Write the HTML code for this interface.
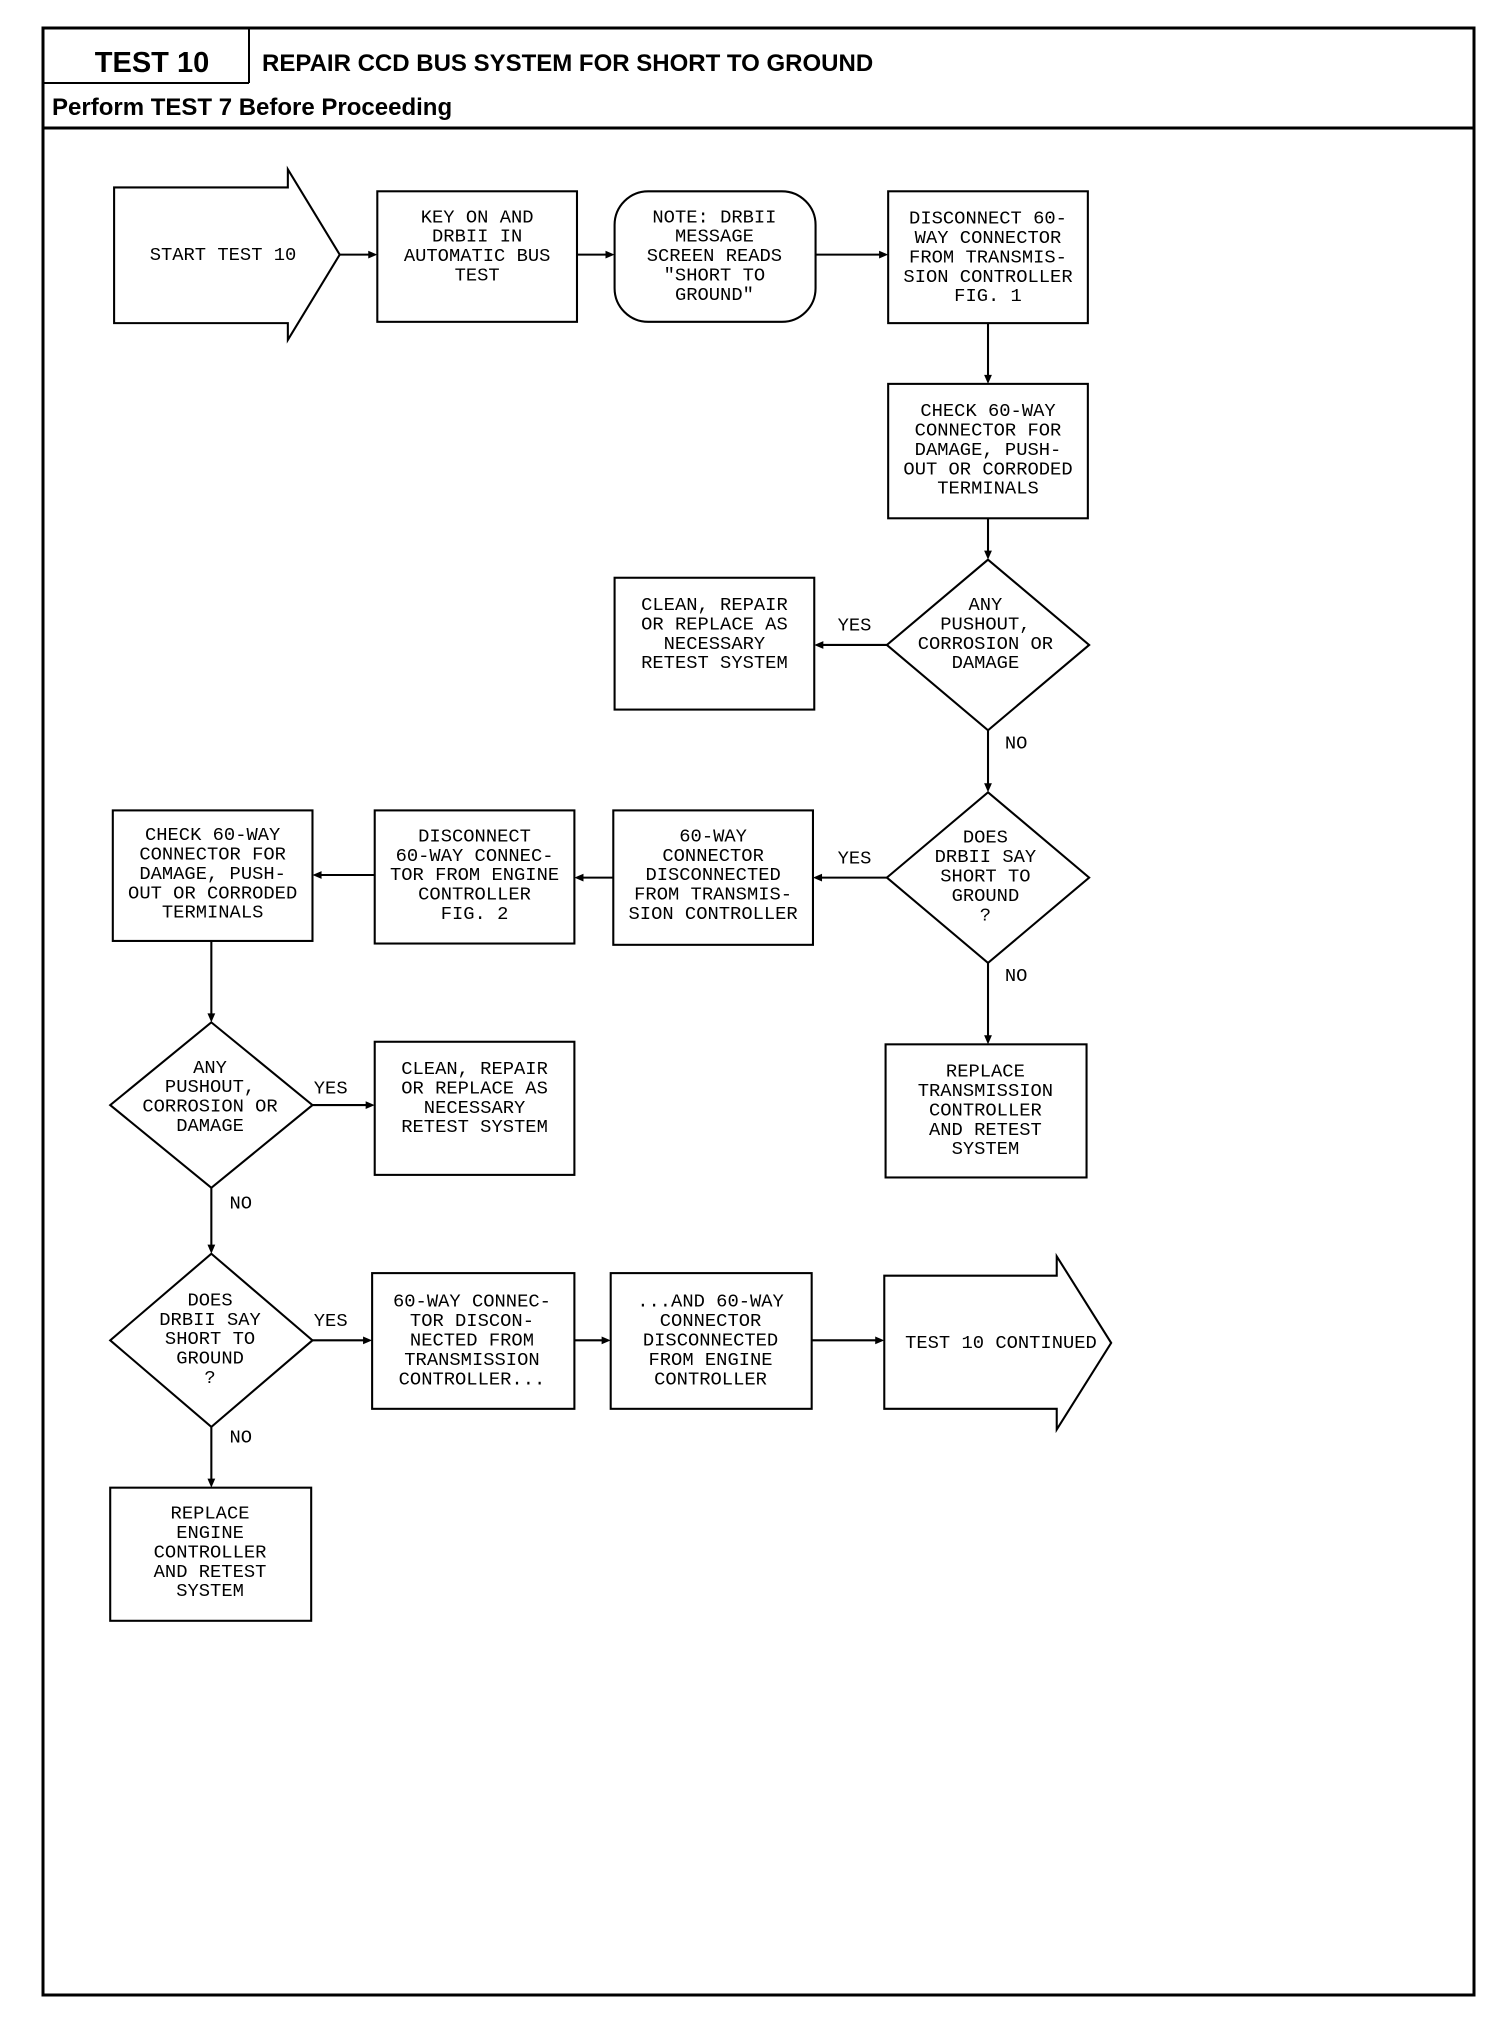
<!DOCTYPE html>
<html><head><meta charset="utf-8"><style>
html,body{margin:0;padding:0;background:#fff;}
svg{display:block;}
.t{font-family:"Liberation Mono",monospace;font-size:14.5px;fill:#000;text-anchor:middle;}
.l{font-family:"Liberation Mono",monospace;font-size:14.5px;fill:#000;}
</style></head><body>
<svg width="1504" height="2024" viewBox="0 0 1504 2024" xmlns="http://www.w3.org/2000/svg">
<rect x="0" y="0" width="1504" height="2024" fill="#fff"/>
<g fill="none" stroke="#000">
<path d="M43 27 L1500 30 L1474 1995 L43 1995 Z" stroke-width="0" />
<rect x="43" y="28" width="1431" height="1967" stroke-width="3"/>
<line x1="43" y1="83" x2="249" y2="83" stroke-width="2"/>
<line x1="249" y1="28" x2="249" y2="83" stroke-width="2"/>
<line x1="43" y1="128" x2="1474" y2="128" stroke-width="3"/>
</g>
<text x="152" y="72" font-family="Liberation Sans,sans-serif" font-weight="bold" font-size="29" text-anchor="middle">TEST 10</text>
<text x="262" y="71" font-family="Liberation Sans,sans-serif" font-weight="bold" font-size="24">REPAIR CCD BUS SYSTEM FOR SHORT TO GROUND</text>
<text x="52" y="115" font-family="Liberation Sans,sans-serif" font-weight="bold" font-size="24">Perform TEST 7 Before Proceeding</text>

<g transform="scale(1.2966,1.2925)">
<g fill="none" stroke="#000" stroke-width="1.6">
<!-- start arrow -->
<path d="M88 145 L222 145 L222 131 L262 197 L222 263 L222 250 L88 250 Z"/>
<rect x="291" y="148" width="154" height="101"/>
<rect x="474" y="148" width="155" height="101" rx="26"/>
<rect x="685" y="148" width="154" height="102"/>
<rect x="685" y="297" width="154" height="104"/>
<path d="M762 433 L840 499 L762 565 L684 499 Z"/>
<rect x="474" y="447" width="154" height="102"/>
<path d="M762 613 L840 679 L762 745 L684 679 Z"/>
<rect x="473" y="627" width="154" height="104"/>
<rect x="289" y="627" width="154" height="103"/>
<rect x="87" y="627" width="154" height="101"/>
<rect x="683" y="808" width="155" height="103"/>
<path d="M163 791 L241 855 L163 919 L85 855 Z"/>
<rect x="289" y="806" width="154" height="103"/>
<path d="M163 970 L241 1037 L163 1104 L85 1037 Z"/>
<rect x="287" y="985" width="156" height="105"/>
<rect x="471" y="985" width="155" height="105"/>
<path d="M682 987 L815 987 L815 972 L857 1039 L815 1106 L815 1090 L682 1090 Z"/>
<rect x="85" y="1151" width="155" height="103"/>
<!-- connectors -->
<line x1="262" y1="197" x2="285" y2="197"/>
<line x1="445" y1="197" x2="468" y2="197"/>
<line x1="629" y1="197" x2="679" y2="197"/>
<line x1="762" y1="250" x2="762" y2="291"/>
<line x1="762" y1="401" x2="762" y2="427"/>
<line x1="684" y1="499" x2="634" y2="499"/>
<line x1="762" y1="565" x2="762" y2="607"/>
<line x1="684" y1="679" x2="633" y2="679"/>
<line x1="473" y1="679" x2="449" y2="679"/>
<line x1="289" y1="677" x2="247" y2="677"/>
<line x1="762" y1="745" x2="762" y2="802"/>
<line x1="163" y1="728" x2="163" y2="785"/>
<line x1="241" y1="855" x2="283" y2="855"/>
<line x1="163" y1="919" x2="163" y2="964"/>
<line x1="241" y1="1037" x2="281" y2="1037"/>
<line x1="443" y1="1037" x2="465" y2="1037"/>
<line x1="626" y1="1037" x2="676" y2="1037"/>
<line x1="163" y1="1104" x2="163" y2="1145"/>
</g>
<g fill="#000">
<path d="M291 197 l-7 -3 v6 z"/>
<path d="M474 197 l-7 -3 v6 z"/>
<path d="M685 197 l-7 -3 v6 z"/>
<path d="M762 297 l-3 -7 h6 z"/>
<path d="M762 433 l-3 -7 h6 z"/>
<path d="M628 499 l7 -3 v6 z"/>
<path d="M762 613 l-3 -7 h6 z"/>
<path d="M627 679 l7 -3 v6 z"/>
<path d="M443 679 l7 -3 v6 z"/>
<path d="M241 677 l7 -3 v6 z"/>
<path d="M762 808 l-3 -7 h6 z"/>
<path d="M163 791 l-3 -7 h6 z"/>
<path d="M289 855 l-7 -3 v6 z"/>
<path d="M163 970 l-3 -7 h6 z"/>
<path d="M287 1037 l-7 -3 v6 z"/>
<path d="M471 1037 l-7 -3 v6 z"/>
<path d="M682 1037 l-7 -3 v6 z"/>
<path d="M163 1151 l-3 -7 h6 z"/>
</g>
<g class="t">
<text class="t" x="172" y="201">START TEST 10</text>
<text class="t" x="368" y="172">KEY ON AND</text>
<text class="t" x="368" y="187">DRBII IN</text>
<text class="t" x="368" y="202">AUTOMATIC BUS</text>
<text class="t" x="368" y="217">TEST</text>
<text class="t" x="551" y="172">NOTE: DRBII</text>
<text class="t" x="551" y="187">MESSAGE</text>
<text class="t" x="551" y="202">SCREEN READS</text>
<text class="t" x="551" y="217">"SHORT TO</text>
<text class="t" x="551" y="232">GROUND"</text>
<text class="t" x="762" y="173">DISCONNECT 60-</text>
<text class="t" x="762" y="188">WAY CONNECTOR</text>
<text class="t" x="762" y="203">FROM TRANSMIS-</text>
<text class="t" x="762" y="218">SION CONTROLLER</text>
<text class="t" x="762" y="233">FIG. 1</text>
<text class="t" x="762" y="322">CHECK 60-WAY</text>
<text class="t" x="762" y="337">CONNECTOR FOR</text>
<text class="t" x="762" y="352">DAMAGE, PUSH-</text>
<text class="t" x="762" y="367">OUT OR CORRODED</text>
<text class="t" x="762" y="382">TERMINALS</text>
<text class="t" x="760" y="472">ANY</text>
<text class="t" x="760" y="487">PUSHOUT,</text>
<text class="t" x="760" y="502">CORROSION OR</text>
<text class="t" x="760" y="517">DAMAGE</text>
<text class="t" x="551" y="472">CLEAN, REPAIR</text>
<text class="t" x="551" y="487">OR REPLACE AS</text>
<text class="t" x="551" y="502">NECESSARY</text>
<text class="t" x="551" y="517">RETEST SYSTEM</text>
<text class="t" x="760" y="652">DOES</text>
<text class="t" x="760" y="667">DRBII SAY</text>
<text class="t" x="760" y="682">SHORT TO</text>
<text class="t" x="760" y="697">GROUND</text>
<text class="t" x="760" y="712">?</text>
<text class="t" x="550" y="651">60-WAY</text>
<text class="t" x="550" y="666">CONNECTOR</text>
<text class="t" x="550" y="681">DISCONNECTED</text>
<text class="t" x="550" y="696">FROM TRANSMIS-</text>
<text class="t" x="550" y="711">SION CONTROLLER</text>
<text class="t" x="366" y="651">DISCONNECT</text>
<text class="t" x="366" y="666">60-WAY CONNEC-</text>
<text class="t" x="366" y="681">TOR FROM ENGINE</text>
<text class="t" x="366" y="696">CONTROLLER</text>
<text class="t" x="366" y="711">FIG. 2</text>
<text class="t" x="164" y="650">CHECK 60-WAY</text>
<text class="t" x="164" y="665">CONNECTOR FOR</text>
<text class="t" x="164" y="680">DAMAGE, PUSH-</text>
<text class="t" x="164" y="695">OUT OR CORRODED</text>
<text class="t" x="164" y="710">TERMINALS</text>
<text class="t" x="760" y="833">REPLACE</text>
<text class="t" x="760" y="848">TRANSMISSION</text>
<text class="t" x="760" y="863">CONTROLLER</text>
<text class="t" x="760" y="878">AND RETEST</text>
<text class="t" x="760" y="893">SYSTEM</text>
<text class="t" x="162" y="830">ANY</text>
<text class="t" x="162" y="845">PUSHOUT,</text>
<text class="t" x="162" y="860">CORROSION OR</text>
<text class="t" x="162" y="875">DAMAGE</text>
<text class="t" x="366" y="831">CLEAN, REPAIR</text>
<text class="t" x="366" y="846">OR REPLACE AS</text>
<text class="t" x="366" y="861">NECESSARY</text>
<text class="t" x="366" y="876">RETEST SYSTEM</text>
<text class="t" x="162" y="1010">DOES</text>
<text class="t" x="162" y="1025">DRBII SAY</text>
<text class="t" x="162" y="1040">SHORT TO</text>
<text class="t" x="162" y="1055">GROUND</text>
<text class="t" x="162" y="1070">?</text>
<text class="t" x="364" y="1011">60-WAY CONNEC-</text>
<text class="t" x="364" y="1026">TOR DISCON-</text>
<text class="t" x="364" y="1041">NECTED FROM</text>
<text class="t" x="364" y="1056">TRANSMISSION</text>
<text class="t" x="364" y="1071">CONTROLLER...</text>
<text class="t" x="548" y="1011">...AND 60-WAY</text>
<text class="t" x="548" y="1026">CONNECTOR</text>
<text class="t" x="548" y="1041">DISCONNECTED</text>
<text class="t" x="548" y="1056">FROM ENGINE</text>
<text class="t" x="548" y="1071">CONTROLLER</text>
<text class="t" x="772" y="1043">TEST 10 CONTINUED</text>
<text class="t" x="162" y="1175">REPLACE</text>
<text class="t" x="162" y="1190">ENGINE</text>
<text class="t" x="162" y="1205">CONTROLLER</text>
<text class="t" x="162" y="1220">AND RETEST</text>
<text class="t" x="162" y="1235">SYSTEM</text>
</g>
<text class="l" x="646" y="488">YES</text>
<text class="l" x="775" y="579">NO</text>
<text class="l" x="646" y="668">YES</text>
<text class="l" x="775" y="759">NO</text>
<text class="l" x="242" y="846">YES</text>
<text class="l" x="177" y="935">NO</text>
<text class="l" x="242" y="1026">YES</text>
<text class="l" x="177" y="1116">NO</text>
</g>
</svg>
</body></html>
